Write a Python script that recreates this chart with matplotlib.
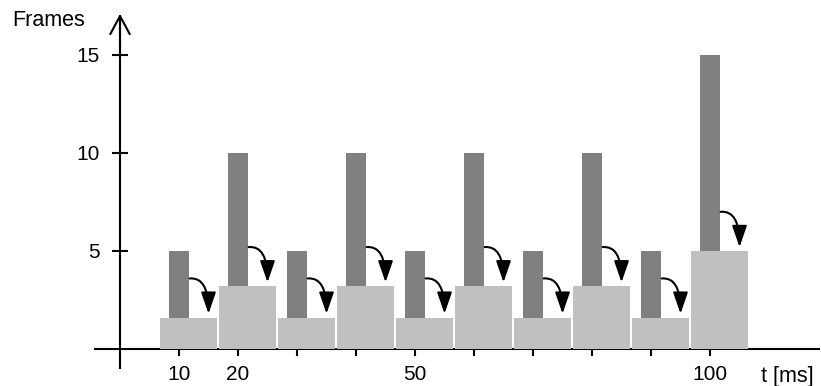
import matplotlib.pyplot as plt
from matplotlib.patches import FancyArrowPatch

plt.rcParams["font.family"] = ["Liberation Sans", "DejaVu Sans"]

# data
times = [10, 20, 30, 40, 50, 60, 70, 80, 90, 100]
frames_in = [5, 10, 5, 10, 5, 10, 5, 10, 5, 15]
frames_out = [1.6, 3.2, 1.6, 3.2, 1.6, 3.2, 1.6, 3.2, 1.6, 5.0]
x_ticklabels = ["10", "20", "", "", "50", "", "", "", "", "100"]
y_ticks = [5, 10, 15]

dark = "#808080"
light = "#c0c0c0"

fig = plt.figure(figsize=(8.21, 3.86), dpi=100)
ax = fig.add_axes([0, 0, 1, 1])
ax.set_xlim(-20.34, 118.81)
ax.set_ylim(-1.888, 17.806)

# tall narrow bars, then the wide light bars over their feet
ax.bar(times, frames_in, width=3.4, color=dark, zorder=3)
ax.bar([t - 3.2 for t in times], frames_out, width=9.6, align="edge",
       color=light, zorder=4)

# curved arrows from each tall bar down onto its light bar
for t, top in zip(times, frames_out):
    arrow = FancyArrowPatch(
        (t + 1.8, top + 2.0), (t + 5.0, top + 0.2),
        connectionstyle="angle3,angleA=5,angleB=90",
        arrowstyle="-|>,head_length=1.3,head_width=0.45",
        mutation_scale=10, lw=1.5, color="black",
        shrinkA=0, shrinkB=0, zorder=5,
    )
    ax.add_patch(arrow)

# axes drawn as crossing lines with open arrow heads
for side in ["top", "right"]:
    ax.spines[side].set_visible(False)
ax.spines["left"].set_position(("data", 0))
ax.spines["bottom"].set_position(("data", 0))
ax.spines["left"].set_bounds(-0.97, 17.0)
ax.spines["bottom"].set_bounds(-4.24, 118.5)
for side in ["left", "bottom"]:
    ax.spines[side].set_linewidth(1.5)

head = "->,head_length=1.3,head_width=0.7"
ax.annotate("", xy=(0, 17.1), xytext=(0, 15.0),
            arrowprops=dict(arrowstyle=head, lw=1.5, shrinkA=0, shrinkB=0,
                            mutation_scale=10))
ax.annotate("", xy=(119.0, 0), xytext=(110.0, 0),
            arrowprops=dict(arrowstyle=head, lw=1.5, shrinkA=0, shrinkB=0,
                            mutation_scale=10))

ax.set_xticks(times)
ax.set_xticklabels(x_ticklabels)
ax.set_yticks(y_ticks)
ax.tick_params(axis="x", direction="out", length=5, width=1.5, pad=6.5,
               labelsize=15)
ax.tick_params(axis="y", direction="inout", length=11.5, width=1.5, pad=8.6,
               labelsize=15)

fig.text(12 / 821, 1 - 26 / 386, "Frames", fontsize=15.5, ha="left",
         va="baseline")
fig.text(761 / 821, 1 - 382 / 386, "t [ms]", fontsize=15.5, ha="left",
         va="baseline")

fig.savefig("out.png", dpi=100)
